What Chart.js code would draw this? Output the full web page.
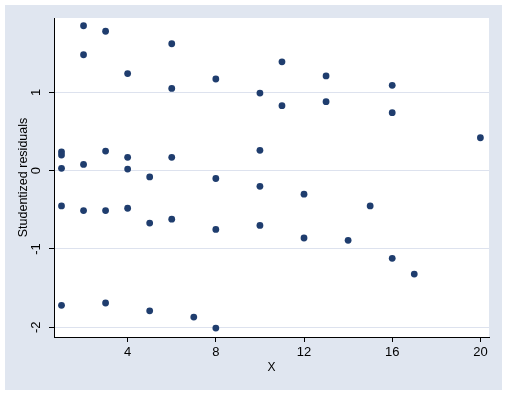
<!DOCTYPE html>
<html>
<head>
<meta charset="utf-8">
<script src="https://cdn.jsdelivr.net/npm/chart.js@4"></script>
<style>
  html, body { margin: 0; padding: 0; background: #fff; }
  #wrap { width: 505px; height: 394px; }
</style>
</head>
<body>
<div id="wrap"><canvas id="resid-chart" width="505" height="394"></canvas></div>
<script>
// valores (X x residuos studentizados)
const xValues = [
  1, 1, 1, 1, 1,
  2, 2, 2, 2,
  3, 3, 3, 3,
  4, 4, 4, 4,
  5, 5, 5,
  6, 6, 6, 6,
  7,
  8, 8, 8, 8,
  10, 10, 10, 10,
  11, 11,
  12, 12,
  13, 13,
  14,
  15,
  16, 16, 16,
  17,
  20
];
const residuals = [
  0.24, 0.20, 0.03, -0.45, -1.72,
  1.85, 1.48, 0.08, -0.51,
  1.78, 0.25, -0.51, -1.69,
  1.24, 0.17, 0.02, -0.48,
  -0.08, -0.67, -1.79,
  1.62, 1.05, 0.17, -0.62,
  -1.87,
  1.17, -0.10, -0.75, -2.01,
  0.99, 0.26, -0.20, -0.70,
  1.39, 0.83,
  -0.30, -0.86,
  1.21, 0.88,
  -0.89,
  -0.45,
  1.09, 0.74, -1.12,
  -1.32,
  0.42
];
const xTicks = [4, 8, 12, 16, 20];
const yTicks = [-2, -1, 0, 1];

const fontFamily = 'Arial, "Liberation Sans", sans-serif';

// fundo estilo stata: borda branca, regiao azulada e area do grafico branca
const backgroundPlugin = {
  id: "stataBackground",
  beforeDraw(chart) {
    const ctx = chart.ctx;
    const area = chart.chartArea;
    ctx.save();
    ctx.fillStyle = "#ffffff";
    ctx.fillRect(0, 0, chart.width, chart.height);
    ctx.fillStyle = "#e0e6f0";
    ctx.fillRect(5, 5, 497, 385);
    ctx.fillStyle = "#ffffff";
    ctx.fillRect(area.left, area.top, area.right - area.left, area.bottom - area.top);
    ctx.restore();
  }
};

const points = xValues.map((x, i) => ({ x: x, y: residuals[i] }));

const ctx = document.getElementById("resid-chart").getContext("2d");
new Chart(ctx, {
  type: "scatter",
  data: {
    datasets: [
      {
        data: points,
        backgroundColor: "#1f3d6e",
        borderWidth: 0,
        pointRadius: 3.4,
        pointHoverRadius: 3.4
      }
    ]
  },
  options: {
    responsive: false,
    animation: false,
    layout: {
      padding: { left: 0, top: 18, right: 16, bottom: 0 }
    },
    plugins: {
      legend: { display: false },
      tooltip: { enabled: false }
    },
    scales: {
      x: {
        type: "linear",
        min: 0.66,
        max: 20.39,
        afterBuildTicks(scale) {
          scale.ticks = xTicks.map(v => ({ value: v }));
        },
        afterFit(scale) {
          scale.height = 57;
        },
        border: { display: true, color: "#000", width: 1 },
        grid: {
          drawOnChartArea: false,
          drawTicks: true,
          tickLength: 5,
          tickColor: "#000"
        },
        ticks: {
          color: "#000",
          padding: 3,
          maxRotation: 0,
          font: { size: 13, family: fontFamily }
        },
        title: {
          display: true,
          text: "X",
          color: "#000",
          padding: { top: 0, bottom: 19 },
          font: { size: 12, family: fontFamily }
        }
      },
      y: {
        type: "linear",
        min: -2.124,
        max: 1.949,
        afterBuildTicks(scale) {
          scale.ticks = yTicks.map(v => ({ value: v }));
        },
        afterFit(scale) {
          scale.width = 54;
        },
        border: { display: true, color: "#000", width: 1 },
        grid: {
          color: "#dde2ee",
          lineWidth: 1,
          drawTicks: true,
          tickLength: 5,
          tickColor: "#000"
        },
        ticks: {
          color: "#000",
          padding: 7,
          minRotation: 90,
          maxRotation: 90,
          crossAlign: "center",
          font: { size: 13, family: fontFamily }
        },
        title: {
          display: true,
          text: "Studentized residuals",
          color: "#000",
          padding: { top: 16, bottom: 0 },
          font: { size: 12.5, family: fontFamily }
        }
      }
    }
  },
  plugins: [backgroundPlugin]
});
</script>
</body>
</html>
